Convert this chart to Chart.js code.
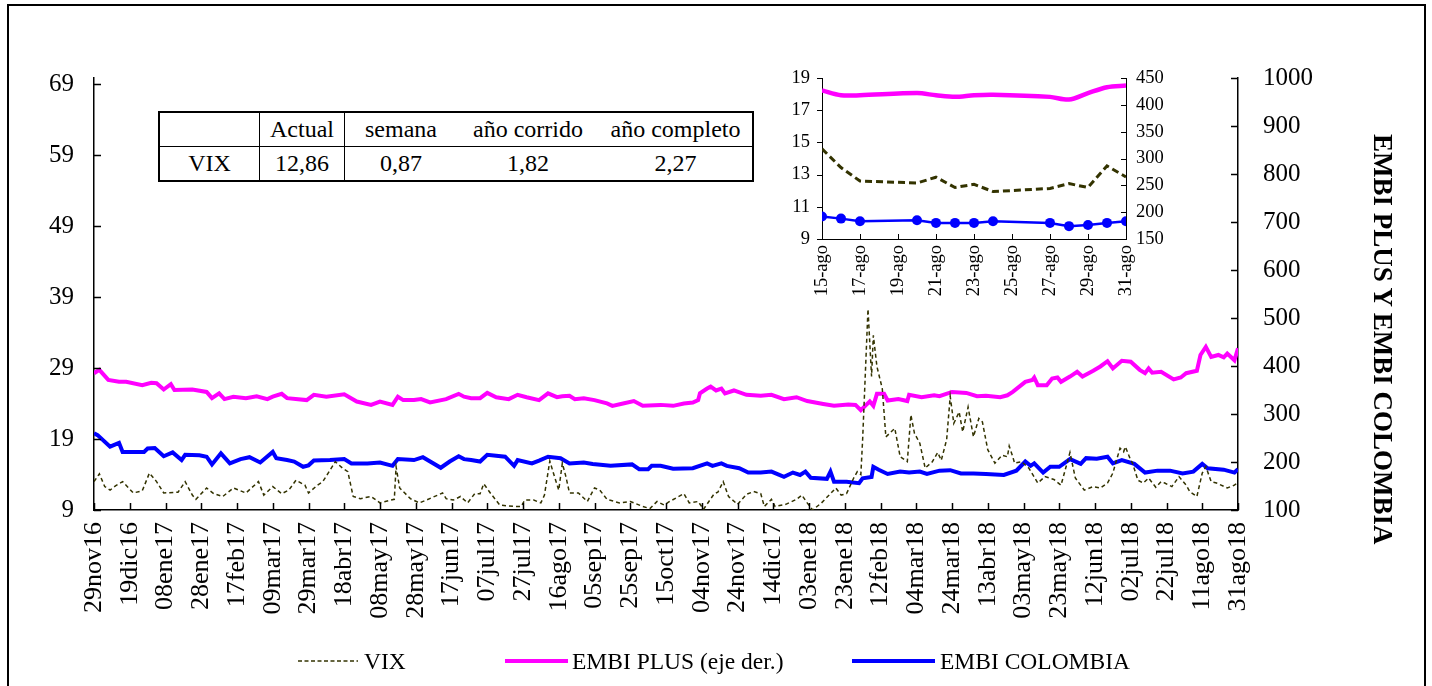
<!DOCTYPE html>
<html>
<head>
<meta charset="utf-8">
<script src="https://cdn.jsdelivr.net/npm/chart.js"></script>
<style>
  body { margin: 0; background: #fff; font-family: "Liberation Serif", "Times New Roman", serif; }
  #wrap { position: relative; width: 1432px; height: 686px; overflow: hidden; }
  #frame { position: absolute; left: 7px; top: 4px; width: 1415px; height: 700px; border: 2px solid #000; }
  #main { position: absolute; left: 0; top: 0; }
  #inset { position: absolute; left: 760px; top: 55px; }
  table.res { position: absolute; left: 158px; top: 111px; border-collapse: collapse; font-size: 24px; border: 2px solid #000; background: #fff; }
  table.res td { height: 33px; padding: 0; text-align: center; border-top: 1.5px solid #000; }
  table.res td.v { border-right: 1.5px solid #000; }
  .rtitle { position: absolute; left: 1367px; top: 134px; writing-mode: vertical-rl; font-weight: bold; font-size: 27px; white-space: nowrap; }
  .leg { position: absolute; top: 647px; font-size: 23.5px; line-height: 28px; white-space: nowrap; }
  .legline { position: absolute; height: 4px; top: 659px; }
</style>
</head>
<body>
<div id="wrap">
  <div id="frame"></div>
  <canvas id="main" width="1432" height="686"></canvas>
  <canvas id="inset" width="420" height="260"></canvas>

  <table class="res">
    <tr><td class="v" style="width:99px"></td><td class="v" style="width:84px">Actual</td><td style="width:112px">semana</td><td style="width:142px">año corrido</td><td style="width:153px">año completo</td></tr>
    <tr><td class="v">VIX</td><td class="v">12,86</td><td>0,87</td><td>1,82</td><td>2,27</td></tr>
  </table>

  <div class="rtitle">EMBI PLUS Y EMBI COLOMBIA</div>

  <svg style="position:absolute;left:298px;top:655px" width="62" height="12"><line x1="0" y1="6" x2="60" y2="6" stroke="#333300" stroke-width="1.6" stroke-dasharray="4,2.5"/></svg>
  <div class="leg" style="left:364px">VIX</div>
  <div class="legline" style="left:505px;width:63px;background:#ff00ff"></div>
  <div class="leg" style="left:572px">EMBI PLUS (eje der.)</div>
  <div class="legline" style="left:852px;width:83px;background:#0000ff"></div>
  <div class="leg" style="left:940px">EMBI COLOMBIA</div>
</div>

<script>
// dias contados desde 29nov16
var xTickLabels = ['29nov16','19dic16','08ene17','28ene17','17feb17','09mar17','29mar17','18abr17','08may17','28may17',
  '17jun17','07jul17','27jul17','16ago17','05sep17','25sep17','15oct17','04nov17','24nov17','14dic17','03ene18',
  '23ene18','12feb18','04mar18','24mar18','13abr18','03may18','23may18','12jun18','02jul18','22jul18','11ago18','31ago18'];
var leftTicks = [9, 19, 29, 39, 49, 59, 69];
var rightTicks = [100, 200, 300, 400, 500, 600, 700, 800, 900, 1000];

var vixDays = [0,3,6,9,12,16,22,27,31,35,39,47,51,55,57,63,67,72,78,85,92,95,100,105,109,113,118,120,125,128,131,135,139,142,145,149,155,160,166,168,169,171,177,182,186,195,197,201,205,209,213,216,218,222,227,235,239,241,246,250,252,255,257,260,262,264,266,271,276,280,283,287,294,300,307,311,315,319,322,330,333,338,341,347,349,352,355,360,365,369,373,375,379,381,387,393,396,399,402,407,412,415,418,421,425,427,429,430,433,435,436,438,441,443,448,451,455,457,459,462,465,469,472,474,477,479,481,484,486,489,492,495,497,500,504,508,511,512,514,515,519,523,528,532,537,541,546,549,554,559,563,567,570,572,574,576,577,580,581,584,587,590,594,597,599,603,607,611,613,617,620,622,625,628,634,638,640];
var vixVals = [13.0,14.1,12.3,11.8,12.4,13.0,11.4,11.7,14.2,13.0,11.4,11.5,13.0,11.1,10.5,12.1,11.3,10.9,12.1,11.4,13.0,11.1,12.3,11.3,11.8,13.2,12.5,11.4,12.5,13.0,14.2,15.8,14.9,14.4,10.9,10.6,10.9,10.0,10.4,10.5,15.1,12.1,10.6,10.0,10.4,11.4,10.6,10.4,10.9,10.0,11.3,11.3,12.7,11.3,9.7,9.5,9.5,10.4,10.4,10.0,11.1,15.9,14.2,11.8,15.6,13.7,11.4,11.4,10.2,12.1,11.8,10.5,10.0,10.2,9.5,9.2,10.2,9.7,10.2,11.3,10.0,10.2,9.1,11.3,11.5,13.0,10.9,9.8,11.2,11.6,11.3,9.5,10.5,9.5,9.8,10.5,11.1,10.0,9.0,10.0,11.3,12.1,11.1,11.3,13.5,14.4,14.0,18.9,37.3,27.8,33.6,29.2,26.1,19.3,20.5,16.5,15.8,22.4,19.8,18.4,14.9,15.8,17.1,16.0,18.9,25.0,21.2,22.8,20.0,23.5,19.3,21.9,21.4,17.5,15.6,16.7,16.5,18.0,16.5,15.6,15.8,14.9,12.8,13.7,13.3,12.5,17.1,13.5,11.8,12.3,12.1,12.8,14.2,16.0,17.7,17.2,17.9,16.0,15.6,13.2,12.8,13.5,12.2,13.0,12.8,12.3,13.7,12.5,11.6,10.9,14.2,15.1,13.0,12.8,12.1,12.5,12.9];

var plusDays = [0,3,8,14,18,27,32,35,39,43,45,55,63,66,70,73,78,85,91,97,100,105,108,119,123,130,140,147,155,160,167,170,173,179,183,188,197,204,207,211,216,220,225,232,237,242,249,254,259,262,266,269,274,280,287,290,296,302,307,317,324,330,335,338,339,343,345,348,351,353,358,365,373,379,386,393,399,408,414,422,426,429,432,434,436,438,442,444,450,455,456,463,470,473,480,488,494,499,507,511,514,521,525,526,528,533,536,539,541,546,550,553,559,563,567,570,575,580,585,588,590,592,597,604,608,611,617,619,622,625,629,632,634,638,640];
var plusVals = [385,392,371,367,367,360,365,364,351,362,350,351,346,333,343,331,336,333,337,331,336,342,333,329,340,336,341,326,319,326,319,336,329,329,331,324,331,342,336,333,333,344,335,331,340,335,329,343,335,337,338,331,333,329,322,317,322,327,317,319,317,322,324,329,343,353,357,349,353,343,349,340,338,340,331,335,327,321,317,320,319,308,319,326,317,342,342,328,331,327,340,335,339,337,346,344,337,338,335,339,346,367,371,376,360,360,374,376,367,378,388,378,390,399,410,395,411,409,392,385,395,386,388,372,376,385,390,423,440,419,423,418,426,412,437];

var colDays = [0,2,9,14,16,28,30,34,39,44,49,51,59,63,66,71,76,82,87,93,100,102,108,112,117,120,123,132,140,144,153,160,167,170,179,184,194,199,204,207,211,216,220,230,235,237,245,249,254,261,266,274,279,289,301,305,310,312,317,324,335,343,346,351,354,361,366,373,379,386,391,395,398,401,410,412,414,421,428,430,435,436,439,444,451,456,462,466,473,479,485,492,499,509,516,521,524,526,531,535,540,546,552,555,561,567,570,575,582,588,595,602,609,615,620,623,632,638,640];
var colVals = [260,256,232,240,221,221,228,229,212,220,204,215,214,211,195,218,197,206,210,199,221,208,204,201,190,193,203,204,206,197,197,199,192,206,204,210,188,201,212,206,204,201,215,211,192,204,197,203,211,208,197,199,196,192,195,185,185,192,192,186,187,197,192,197,192,187,178,178,180,169,178,173,180,167,165,180,159,159,156,166,169,190,184,175,180,178,180,175,182,183,176,176,175,173,182,201,192,197,178,190,190,206,196,208,207,211,197,204,196,178,182,182,176,180,196,187,184,178,185];

// recuadro: agosto
var insetDays = [15,16,17,20,21,22,23,24,27,28,29,30,31];
var insetVix = [14.6,13.44,12.6,12.48,12.84,12.2,12.4,11.95,12.14,12.44,12.2,13.54,12.86];
var insetPlus = [427,418,418,422,418,415,418,419,415,410,422,433,436];
var insetCol = [192,188,183,185,180,180,180,183,180,174,176,180,183];
var insetTickDays = [15,17,19,21,23,25,27,29,31];
var insetTickLabels = ['15-ago','17-ago','19-ago','21-ago','23-ago','25-ago','27-ago','29-ago','31-ago'];
var insetLeftTicks = [9,11,13,15,17,19];
var insetRightTicks = [150,200,250,300,350,400,450];

var serif = '"Liberation Serif", "Times New Roman", serif';

function pairs(xs, ys) {
  return xs.map(function(x, i) { return { x: x, y: ys[i] }; });
}
function setTicks(list) {
  return function(scale) { scale.ticks = list.map(function(v) { return { value: v }; }); };
}
function plain(v) { return String(v); }

// marcas de graduacion hacia dentro (como en Excel)
var innerTicks = {
  id: 'innerTicks',
  afterDraw: function(chart, args, opts) {
    var ctx = chart.ctx, a = chart.chartArea, len = opts.len;
    ctx.save();
    ctx.strokeStyle = '#000';
    ctx.lineWidth = opts.width;
    ctx.beginPath();
    var sx = chart.scales.x;
    sx.ticks.forEach(function(t) {
      var px = Math.round(sx.getPixelForValue(t.value)) + 0.5;
      ctx.moveTo(px, a.bottom); ctx.lineTo(px, a.bottom - len);
    });
    var sy = chart.scales.y, dir = opts.leftOut ? -1 : 1;
    sy.ticks.forEach(function(t) {
      var py = Math.round(sy.getPixelForValue(t.value)) + 0.5;
      ctx.moveTo(a.left, py); ctx.lineTo(a.left + dir * len, py);
    });
    var s2 = chart.scales.y2;
    s2.ticks.forEach(function(t) {
      var py = Math.round(s2.getPixelForValue(t.value)) + 0.5;
      ctx.moveTo(a.right, py); ctx.lineTo(a.right - len, py);
    });
    ctx.stroke();
    ctx.restore();
  }
};

new Chart(document.getElementById('main'), {
  type: 'line',
  data: {
    datasets: [
      { label: 'VIX', data: pairs(vixDays, vixVals), yAxisID: 'y', borderColor: '#333300', borderWidth: 1.5, borderDash: [4, 3], pointRadius: 0, tension: 0 },
      { label: 'EMBI PLUS (eje der.)', data: pairs(plusDays, plusVals), yAxisID: 'y2', borderColor: '#ff00ff', borderWidth: 4, pointRadius: 0, tension: 0 },
      { label: 'EMBI COLOMBIA', data: pairs(colDays, colVals), yAxisID: 'y2', borderColor: '#0000ff', borderWidth: 4, pointRadius: 0, tension: 0 }
    ]
  },
  options: {
    responsive: false,
    animation: false,
    layout: { padding: { top: 78, left: 0, right: 0, bottom: 0 } },
    plugins: { legend: { display: false }, tooltip: { enabled: false }, innerTicks: { len: 7, width: 1.5 } },
    scales: {
      x: {
        type: 'linear', min: 0, max: 640,
        afterBuildTicks: setTicks(xTickLabels.map(function(l, i) { return i * 20; })),
        afterFit: function(s) { s.height = 176; },
        ticks: {
          autoSkip: false, minRotation: 90, maxRotation: 90, padding: 12, color: '#000',
          font: { family: serif, size: 26 },
          callback: function(v, i) { return xTickLabels[i]; }
        },
        grid: { display: false, drawTicks: false },
        border: { color: '#000', width: 1.5 }
      },
      y: {
        position: 'left', min: 9, max: 69.85,
        afterBuildTicks: setTicks(leftTicks),
        afterFit: function(s) { s.width = 94; },
        ticks: { padding: 20, color: '#000', font: { family: serif, size: 25 }, callback: plain },
        grid: { display: false, drawTicks: false },
        border: { color: '#000', width: 1.5 }
      },
      y2: {
        position: 'right', min: 100, max: 1000,
        afterBuildTicks: setTicks(rightTicks),
        afterFit: function(s) { s.width = 194; },
        ticks: { padding: 25, color: '#000', font: { family: serif, size: 25 }, callback: plain },
        grid: { display: false, drawTicks: false },
        border: { color: '#000', width: 1.5 }
      }
    }
  },
  plugins: [innerTicks]
});

new Chart(document.getElementById('inset'), {
  type: 'line',
  data: {
    datasets: [
      { label: 'VIX', data: pairs(insetDays, insetVix), yAxisID: 'y', borderColor: '#333300', borderWidth: 3, borderDash: [7, 4], pointRadius: 0, tension: 0 },
      { label: 'EMBI PLUS', data: pairs(insetDays, insetPlus), yAxisID: 'y2', borderColor: '#ff00ff', borderWidth: 4.5, pointRadius: 0, tension: 0.3 },
      { label: 'EMBI COLOMBIA', data: pairs(insetDays, insetCol), yAxisID: 'y2', borderColor: '#0000ff', borderWidth: 2.5, pointRadius: 5, pointBackgroundColor: '#0000ff', pointBorderWidth: 0, tension: 0 }
    ]
  },
  options: {
    responsive: false,
    animation: false,
    layout: { padding: { top: 17, left: 0, right: 0, bottom: 0 } },
    plugins: { legend: { display: false }, tooltip: { enabled: false }, innerTicks: { len: 5, width: 1, leftOut: true } },
    scales: {
      x: {
        type: 'linear', min: 15, max: 31,
        afterBuildTicks: setTicks(insetTickDays),
        afterFit: function(s) { s.height = 76; },
        ticks: {
          autoSkip: false, minRotation: 90, maxRotation: 90, padding: 6, color: '#000',
          font: { family: serif, size: 18.5 },
          callback: function(v, i) { return insetTickLabels[i]; }
        },
        grid: { display: false, drawTicks: false },
        border: { color: '#000', width: 1 }
      },
      y: {
        position: 'left', min: 9, max: 19,
        afterBuildTicks: setTicks(insetLeftTicks),
        afterFit: function(s) { s.width = 62; },
        ticks: { padding: 12, color: '#000', font: { family: serif, size: 18.5 }, callback: plain },
        grid: { display: false, drawTicks: false },
        border: { color: '#000', width: 1 }
      },
      y2: {
        position: 'right', min: 150, max: 450,
        afterBuildTicks: setTicks(insetRightTicks),
        afterFit: function(s) { s.width = 54; },
        ticks: { padding: 10, color: '#000', font: { family: serif, size: 18.5 }, callback: plain },
        grid: { display: false, drawTicks: false },
        border: { color: '#000', width: 1 }
      }
    }
  },
  plugins: [innerTicks]
});
</script>
</body>
</html>
